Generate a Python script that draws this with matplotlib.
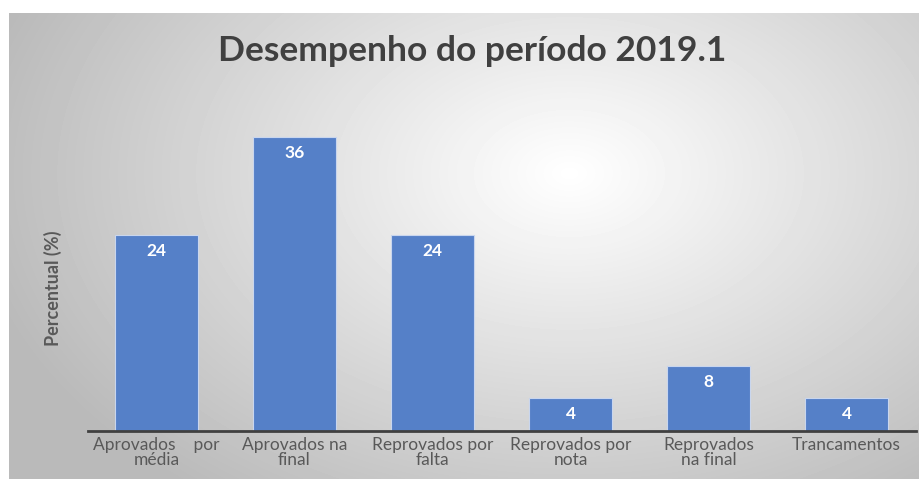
import numpy as np
import matplotlib
matplotlib.use("Agg")
import matplotlib.pyplot as plt

categorias = ["Aprovados    por\nmédia", "Aprovados na\nfinal", "Reprovados por\nfalta",
              "Reprovados por\nnota", "Reprovados\nna final", "Trancamentos"]
percentuais = [24, 36, 24, 4, 8, 4]

plt.rcParams["font.family"] = ["Lato", "DejaVu Sans"]

W, H = 919, 479
fig = plt.figure(figsize=(W / 100, H / 100), dpi=100)
fig.patch.set_facecolor("white")

# radial gradient background (chart area)
bg = fig.add_axes([9 / W, 0, 1 - 9 / W, 1 - 13 / H])
yy, xx = np.mgrid[0:466, 0:910]
r = np.sqrt(((xx - 560) / 600.0) ** 2 + ((yy - 160) / 400.0) ** 2)
r = np.clip(r, 0, 1)
val = 1.0 - 0.27 * r
bg.imshow(val, cmap="gray", vmin=0, vmax=1, aspect="auto", interpolation="bilinear")
bg.axis("off")

ax = fig.add_axes([87.5 / W, 48 / H, 828 / W, 327 / H])
ax.patch.set_alpha(0)
x = np.arange(len(categorias))
bars = ax.bar(x, percentuais, width=0.6, color="#5580c8", edgecolor="#c9d6ee", linewidth=0.8, zorder=2)
for b, v in zip(bars, percentuais):
    ax.text(b.get_x() + b.get_width() / 2, v - 1.95, str(v), ha="center", va="center",
            color="white", fontsize=12.5, fontweight="bold", zorder=3)

ax.set_xlim(-0.5, 5.5)
ax.set_ylim(0, 40)
ax.set_xticks(x)
ax.set_xticklabels(categorias, fontsize=12.5, color="#595959", linespacing=0.95)
ax.tick_params(axis="x", length=0, pad=4)
ax.set_yticks([])
for s in ["top", "right", "left"]:
    ax.spines[s].set_visible(False)
ax.spines["bottom"].set_color("#404040")
ax.spines["bottom"].set_linewidth(2)
ax.spines["bottom"].set_zorder(4)

fig.text(53 / W, 1 - 288 / H, "Percentual (%)", rotation=90, ha="center", va="center",
         fontsize=13, fontweight="bold", color="#595959")
fig.text(472 / W, 1 - 51 / H, "Desempenho do período 2019.1", ha="center", va="center",
         fontsize=25.5, fontweight="bold", color="#404040")

fig.savefig("out.png", dpi=100)
